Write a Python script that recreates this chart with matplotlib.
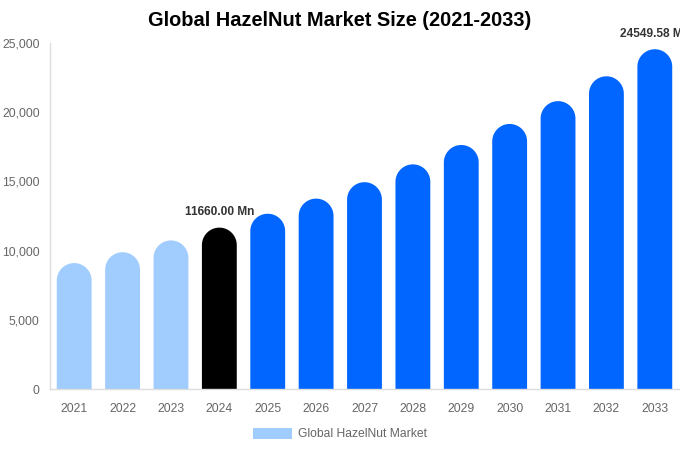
import numpy as np
import matplotlib.pyplot as plt
from matplotlib.path import Path
from matplotlib.patches import PathPatch, Patch

plt.rcParams['font.family'] = ['Liberation Sans', 'DejaVu Sans']

# Données
years = ['2021', '2022', '2023', '2024', '2025', '2026', '2027',
         '2028', '2029', '2030', '2031', '2032', '2033']
values = [9099, 9883, 10735, 11660.00, 12665, 13757, 14943,
          16231, 17630, 19150, 20800, 22594, 24549.58]
labelled = {3: '11660.00 Mn', 12: '24549.58 Mn'}

light_blue = '#a0cdfe'
blue = '#0066ff'
colors = [light_blue] * 3 + ['#000000'] + [blue] * 9

fig = plt.figure(figsize=(6.8, 4.5), dpi=100)
ax = fig.add_axes([50 / 680, 61 / 450, 629 / 680, 346 / 450])
ax.set_xlim(-0.5, len(years) - 0.5)
ax.set_ylim(0, 25000)

x = np.arange(len(years))
w = 0.72

# rayon du haut arrondi en unités de données (y), pour un demi-cercle en pixels
p0 = ax.transData.transform((0, 0))
p1 = ax.transData.transform((w / 2, 0))
r_px = p1[0] - p0[0]
ry = ax.transData.inverted().transform((p0[0], p0[1] + r_px))[1]

t = np.linspace(np.pi, 0, 40)
for xi, h, c in zip(x, values, colors):
    cy = h - ry
    pts = [(xi - w / 2, 0), (xi - w / 2, cy)]
    pts += list(zip(xi + w / 2 * np.cos(t), cy + ry * np.sin(t)))
    pts += [(xi + w / 2, 0), (xi - w / 2, 0)]
    ax.add_patch(PathPatch(Path(pts), facecolor=c, edgecolor='none'))

for i, txt in labelled.items():
    ax.annotate(txt, (x[i], values[i]), xytext=(0, 7), textcoords='offset points',
                ha='center', va='bottom', fontsize=8.6, fontweight='bold',
                color='#333333', annotation_clip=False)

ax.set_xticks(x)
ax.set_xticklabels(years)
ax.set_yticks(np.arange(0, 25001, 5000))
ax.set_yticklabels([f'{v:,}' for v in range(0, 25001, 5000)])
ax.tick_params(axis='both', length=0, labelsize=8.7, labelcolor='#666666')
ax.tick_params(axis='x', pad=10)
ax.tick_params(axis='y', pad=7.5)

for s in ['top', 'right']:
    ax.spines[s].set_visible(False)
for s in ['left', 'bottom']:
    ax.spines[s].set_color('#dddddd')
    ax.spines[s].set_linewidth(1)

fig.suptitle('Global HazelNut Market Size (2021-2033)', x=0.5, y=1 - 21 / 450, va='center',
             fontsize=14.4, fontweight='bold', color='#000000')

handle = Patch(facecolor=light_blue, edgecolor='none')
fig.legend([handle], ['Global HazelNut Market'], loc='center', bbox_to_anchor=(0.5, 1 - 434 / 450),
           frameon=False, fontsize=8.7, labelcolor='#666666',
           handlelength=3.3, handleheight=1.0, handletextpad=0.5)

fig.savefig('out.png', dpi=100)
